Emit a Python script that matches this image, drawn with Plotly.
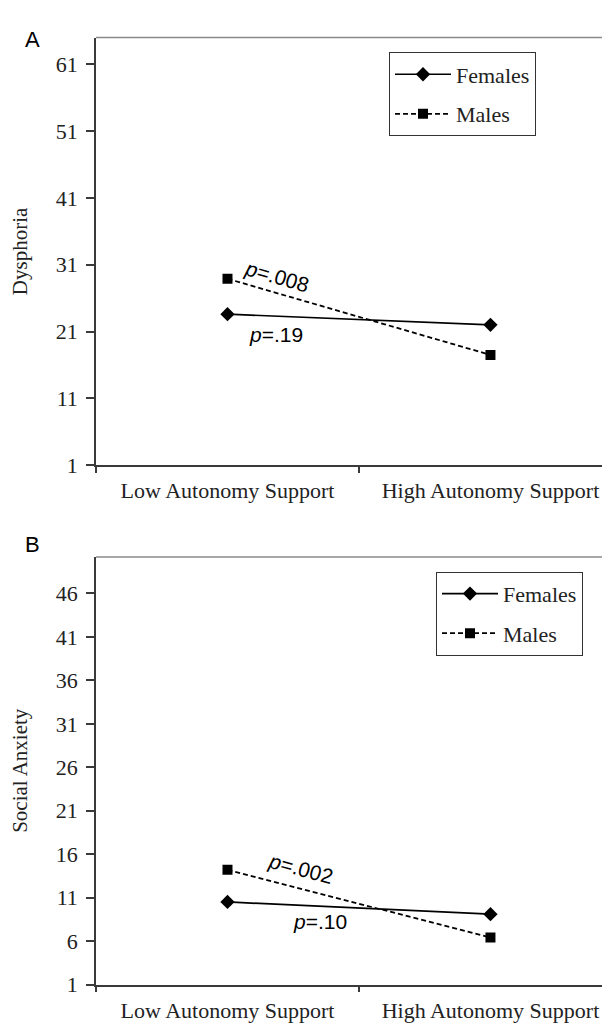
import plotly.graph_objects as go

# ---- data ----
categories = ["Low Autonomy Support", "High Autonomy Support"]
dysphoria_females = [23.6, 22.0]
dysphoria_males = [28.9, 17.5]
anxiety_females = [10.5, 9.1]
anxiety_males = [14.2, 6.4]
dysphoria_ticks = [1, 11, 21, 31, 41, 51, 61]
anxiety_ticks = [1, 6, 11, 16, 21, 26, 31, 36, 41, 46]

W, H = 610, 1030
SERIF = "Liberation Serif, Times New Roman, serif"
SANS = "Liberation Sans, Arial, sans-serif"
AX = "#3a3a3a"
TXT = "#222"

def py(px):
    return 1 - px / H

fig = go.Figure()

def add_pair(fem, mal, xa, ya, legend):
    fig.add_trace(go.Scatter(
        x=categories, y=fem, name="Females", mode="lines+markers",
        xaxis=xa, yaxis=ya, legend=legend, legendgroup=legend + "f",
        line=dict(color="black", width=1.7),
        marker=dict(symbol="diamond", size=11, color="black")))
    fig.add_trace(go.Scatter(
        x=categories, y=mal, name="Males", mode="lines+markers",
        xaxis=xa, yaxis=ya, legend=legend, legendgroup=legend + "m",
        line=dict(color="black", width=1.8, dash="5px,3px"),
        marker=dict(symbol="square", size=10, color="black")))

add_pair(dysphoria_females, dysphoria_males, "x", "y", "legend")
add_pair(anxiety_females, anxiety_males, "x2", "y2", "legend2")

xdom = [88 / W, 1.0]
common_x = dict(
    domain=xdom, range=[-0.5, 1.485], type="category", tickson="boundaries",
    showline=True, linecolor=AX, linewidth=1.5, ticks="outside", ticklen=6,
    tickcolor=AX, tickwidth=1.5, showgrid=False, zeroline=False,
    ticklabelstandoff=5,
    tickfont=dict(family=SERIF, size=22, color=TXT))

def yaxis(dom, rng, ticks, title, anchor):
    return dict(
        domain=dom, range=rng, tickvals=ticks, anchor=anchor,
        showline=True, linecolor=AX, linewidth=1.5, ticks="outside", ticklen=8,
        tickcolor=AX, tickwidth=1.5, showgrid=False, zeroline=False,
        ticklabelstandoff=4,
        tickfont=dict(family=SERIF, size=22, color=TXT),
        title=dict(text=title, font=dict(family=SERIF, size=21, color=TXT), standoff=22))

legend_common = dict(
    bgcolor="white", bordercolor="#333", borderwidth=1,
    font=dict(family=SERIF, size=22, color=TXT),
    xanchor="left", yanchor="top", tracegroupgap=8, itemwidth=56)

fig.update_layout(
    width=W, height=H, margin=dict(l=0, r=0, t=0, b=0),
    paper_bgcolor="white", plot_bgcolor="white",
    xaxis=dict(common_x, anchor="y"),
    xaxis2=dict(common_x, anchor="y2"),
    yaxis=yaxis([py(463), py(30)], [1, 65], dysphoria_ticks, "Dysphoria", "x"),
    yaxis2=yaxis([py(989), py(556)], [1, 50.2], anxiety_ticks, "Social Anxiety", "x2"),
    legend=dict(legend_common, x=381 / W, y=py(45)),
    legend2=dict(legend_common, x=428 / W, y=py(571)),
    showlegend=True,
)

# top frame lines
for top in (30, 556):
    fig.add_shape(type="line", xref="paper", yref="paper",
                  x0=xdom[0], x1=1, y0=py(top), y1=py(top),
                  line=dict(color="#8a8a8a", width=1.5))

# panel letters
for letter, ypx in (("A", 17), ("B", 543)):
    fig.add_annotation(text=letter, xref="paper", yref="paper", x=15 / W, y=py(ypx),
                       showarrow=False, font=dict(family=SANS, size=22, color="black"))

# p-value labels
pfont = dict(family=SANS, size=21, color="black")
fig.add_annotation(text="<i>p</i>=.008", x=0.19, y=29.2, xref="x", yref="y",
                   showarrow=False, textangle=16, font=pfont)
fig.add_annotation(text="<i>p</i>=.19", x=0.185, y=20.5, xref="x", yref="y",
                   showarrow=False, font=pfont)
fig.add_annotation(text="<i>p</i>=.002", x=0.28, y=14.4, xref="x2", yref="y2",
                   showarrow=False, textangle=15, font=pfont)
fig.add_annotation(text="<i>p</i>=.10", x=0.35, y=8.2, xref="x2", yref="y2",
                   showarrow=False, font=pfont)

fig.write_html("out.html")
